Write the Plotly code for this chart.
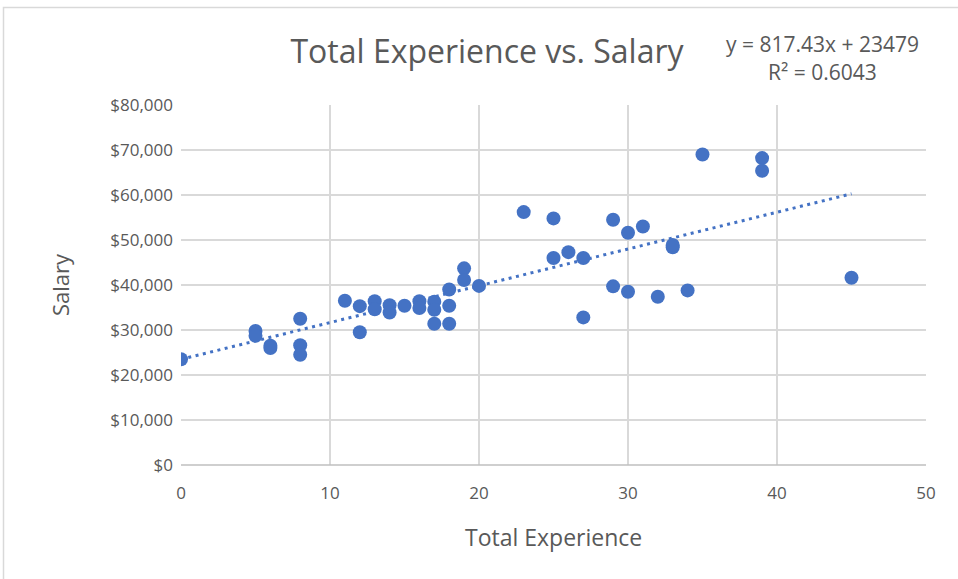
import plotly.graph_objects as go

experience = [0, 5, 5, 6, 6, 8, 8, 8, 11, 12, 12, 13, 13, 14, 14, 15, 16, 16, 17, 17, 17,
              18, 18, 18, 19, 19, 20, 23, 25, 25, 26, 27, 27, 29, 29, 30, 30, 31, 32, 33, 33,
              34, 35, 39, 39, 45]
salary = [23500, 29800, 28700, 26500, 26000, 32500, 26600, 24500, 36500, 35300, 29500, 36400, 34600,
          35500, 33900, 35400, 36400, 34900, 36300, 34500, 31400,
          39000, 35400, 31400, 43700, 41100, 39800, 56200, 54800, 46000, 47300, 46000, 32800,
          54500, 39700, 51600, 38500, 53000, 37400, 48400, 48900,
          38800, 69000, 68200, 65400, 41600]

slope = 817.43
intercept = 23479
trend_x = [0, 45]
trend_y = [intercept + slope * v for v in trend_x]

x_ticks = [0, 10, 20, 30, 40, 50]
y_ticks = [0, 10000, 20000, 30000, 40000, 50000, 60000, 70000, 80000]

BLUE = "#4472C4"
TXT = "#595959"
FONT = "Open Sans, Lato, sans-serif"

L, R, T, B = 181, 926, 105, 465
PW, PH = R - L, B - T


def px(xp):
    return (xp - L) / PW


def py(yp):
    return (B - yp) / PH


fig = go.Figure()
fig.add_trace(go.Scatter(x=trend_x, y=trend_y, mode="lines",
                         line=dict(color=BLUE, width=3, dash="3px,4.5px"),
                         showlegend=False, hoverinfo="skip"))
fig.add_trace(go.Scatter(x=experience, y=salary, mode="markers",
                         marker=dict(color=BLUE, size=14, line=dict(width=0)),
                         showlegend=False))

fig.update_layout(
    width=958, height=579,
    margin=dict(l=L, r=958 - R, t=T, b=579 - B),
    paper_bgcolor="white", plot_bgcolor="white",
    font=dict(family=FONT, color=TXT, size=17),
    title=dict(text="Total Experience vs. Salary", x=487 / 958, xanchor="center",
               y=1 - 52 / 579, yanchor="middle", font=dict(size=32, color=TXT, family=FONT)),
    xaxis=dict(range=[0, 50], tickvals=x_ticks, showgrid=True, gridcolor="#D9D9D9", gridwidth=1.5,
               zeroline=False, showline=False, ticks="", ticklabelstandoff=16,
               tickfont=dict(size=17, color=TXT)),
    yaxis=dict(range=[0, 80000], tickvals=y_ticks, tickformat="$,.0f", showgrid=True,
               gridcolor="#D9D9D9", gridwidth=1.5, zeroline=False, showline=False,
               ticks="", ticklabelstandoff=7, tickfont=dict(size=17, color=TXT)),
    shapes=[
        dict(type="line", xref="paper", yref="paper", x0=0, x1=1, y0=0, y1=0,
             line=dict(color="#BFBFBF", width=1.5)),
        dict(type="rect", xref="paper", yref="paper",
             x0=px(3.5), x1=px(1000), y0=py(700), y1=py(7.5),
             line=dict(color="#D9D9D9", width=1.5), layer="below"),
    ],
    annotations=[
        dict(text="y = 817.43x + 23479", xref="paper", yref="paper",
             x=px(822), y=py(44), xanchor="center", yanchor="middle",
             showarrow=False, font=dict(size=21, color=TXT, family=FONT)),
        dict(text="R² = 0.6043", xref="paper", yref="paper",
             x=px(822), y=py(72), xanchor="center", yanchor="middle",
             showarrow=False, font=dict(size=21, color=TXT, family=FONT)),
        dict(text="Total Experience", xref="paper", yref="paper",
             x=px(553), y=py(537), xanchor="center", yanchor="middle",
             showarrow=False, font=dict(size=23, color=TXT, family=FONT)),
        dict(text="Salary", xref="paper", yref="paper", textangle=-90,
             x=px(60), y=py(285), xanchor="center", yanchor="middle",
             showarrow=False, font=dict(size=22, color=TXT, family=FONT)),
    ],
)

fig.write_html("out.html", config={"displayModeBar": False},
               post_script="document.body.style.margin='0';")
